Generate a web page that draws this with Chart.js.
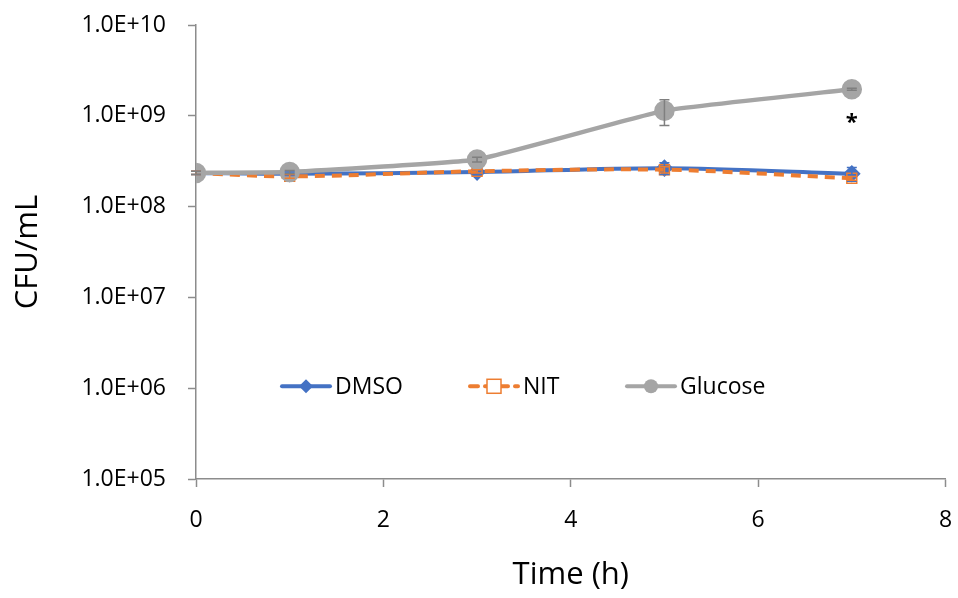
<!DOCTYPE html>
<html>
<head>
    <title>CFU over time</title>
    <script src="https://cdn.jsdelivr.net/npm/chart.js"></script>
    <style>
      body { margin: 0; background: #fff; }
    </style>
</head>
<body>
    <canvas id="cfuChart" width="958" height="598"></canvas>

    <script>
    // values
    const hours = [0, 1, 3, 5, 7];
    const dmso = [2.35e8, 2.3e8, 2.4e8, 2.65e8, 2.3e8];
    const dmsoErr = [0.1e8, 0.1e8, 0.15e8, 0.4e8, 0.4e8];
    const nit = [2.35e8, 2.15e8, 2.45e8, 2.55e8, 2.05e8];
    const nitErr = [0.1e8, 0.1e8, 0.1e8, 0.2e8, 0.1e8];
    const glucose = [2.35e8, 2.4e8, 3.3e8, 1.14e9, 1.96e9];
    const glucoseErr = [0.1e8, 0.1e8, 0.2e8, 0.36e9, 0.05e9];
    const yTicks = [1e5, 1e6, 1e7, 1e8, 1e9, 1e10];
    const xTicks = [0, 2, 4, 6, 8];
    const starAt = { x: 7, y: 9.2e8 };

    const FONT = "'Open Sans', sans-serif";
    const AXIS = '#8c8c8c';

    function pts(ys) { return hours.map((h, i) => ({ x: h, y: ys[i] })); }

    const errorBars = {
      id: 'errorBars',
      afterDatasetsDraw(chart) {
        const ctx = chart.ctx, xs = chart.scales.x, ys = chart.scales.y;
        const sets = [[dmso, dmsoErr, '#4472c4'], [nit, nitErr, '#ed7d31'], [glucose, glucoseErr, '#7f7f7f']];
        ctx.save();
        ctx.lineWidth = 1.5;
        sets.forEach(([v, e, c]) => {
          ctx.strokeStyle = c;
          v.forEach((val, i) => {
            const px = xs.getPixelForValue(hours[i]);
            const top = ys.getPixelForValue(val + e[i]);
            const bot = ys.getPixelForValue(val - e[i]);
            ctx.beginPath();
            ctx.moveTo(px, top); ctx.lineTo(px, bot);
            ctx.moveTo(px - 5, top); ctx.lineTo(px + 5, top);
            ctx.moveTo(px - 5, bot); ctx.lineTo(px + 5, bot);
            ctx.stroke();
          });
        });
        // significance mark
        ctx.fillStyle = '#000';
        ctx.font = "bold 22px " + FONT;
        ctx.textAlign = 'center';
        ctx.textBaseline = 'middle';
        ctx.fillText('*', xs.getPixelForValue(starAt.x), ys.getPixelForValue(starAt.y) + 4);
        ctx.restore();
      }
    };

    const legendItems = [
      { text: 'DMSO', color: '#4472c4', dash: [], marker: 'diamond', x: 282 },
      { text: 'NIT', color: '#ed7d31', dash: [8, 7], marker: 'square', x: 470 },
      { text: 'Glucose', color: '#a5a5a5', dash: [], marker: 'circle', x: 627 }
    ];

    const innerLegend = {
      id: 'innerLegend',
      afterDraw(chart) {
        const ctx = chart.ctx;
        const y = chart.scales.y.getPixelForValue(1.05e6);
        ctx.save();
        legendItems.forEach(it => {
          const x0 = it.x, x1 = it.x + 48, cx = (x0 + x1) / 2;
          ctx.strokeStyle = it.color;
          ctx.lineWidth = 4;
          ctx.lineCap = 'round';
          ctx.setLineDash(it.dash);
          ctx.beginPath(); ctx.moveTo(x0, y); ctx.lineTo(x1, y); ctx.stroke();
          ctx.setLineDash([]);
          if (it.marker === 'diamond') {
            ctx.fillStyle = it.color;
            ctx.beginPath();
            ctx.moveTo(cx, y - 7); ctx.lineTo(cx + 7, y); ctx.lineTo(cx, y + 7); ctx.lineTo(cx - 7, y);
            ctx.closePath(); ctx.fill();
          } else if (it.marker === 'square') {
            ctx.fillStyle = '#fff';
            ctx.fillRect(cx - 7, y - 7, 14, 14);
            ctx.lineWidth = 1.5;
            ctx.strokeRect(cx - 7, y - 7, 14, 14);
          } else {
            ctx.fillStyle = it.color;
            ctx.beginPath(); ctx.arc(cx, y, 7, 0, Math.PI * 2); ctx.fill();
          }
          ctx.fillStyle = '#000';
          ctx.font = '23px ' + FONT;
          ctx.textAlign = 'left';
          ctx.textBaseline = 'middle';
          ctx.fillText(it.text, x1 + 5, y + 1);
        });
        ctx.restore();
      }
    };

    new Chart(document.getElementById('cfuChart'), {
      type: 'line',
      data: {
        datasets: [{
          label: 'DMSO',
          data: pts(dmso),
          borderColor: '#4472c4',
          backgroundColor: '#4472c4',
          borderWidth: 4,
          pointStyle: 'rectRot',
          pointRadius: 6,
          tension: 0.3,
          order: 3
        }, {
          label: 'NIT',
          data: pts(nit),
          borderColor: '#ed7d31',
          backgroundColor: 'rgba(255,255,255,0)',
          borderWidth: 4,
          borderDash: [10, 7],
          pointStyle: 'rect',
          pointRadius: 7,
          pointBorderWidth: 1.5,
          tension: 0.3,
          order: 2
        }, {
          label: 'Glucose',
          data: pts(glucose),
          borderColor: '#a5a5a5',
          backgroundColor: '#a5a5a5',
          borderWidth: 4.5,
          pointStyle: 'circle',
          pointRadius: 8,
          tension: 0.1,
          order: 1
        }]
      },
      options: {
        responsive: false,
        animation: false,
        layout: { padding: { top: 25, right: 11, left: 0, bottom: 0 } },
        plugins: { legend: { display: false }, tooltip: { enabled: false } },
        scales: {
          x: {
            type: 'linear',
            min: 0, max: 8,
            afterBuildTicks: s => { s.ticks = xTicks.map(v => ({ value: v })); },
            afterFit: s => { s.height = 119; s.paddingLeft = 0; s.paddingRight = 0; },
            grid: { display: true, drawOnChartArea: false, drawTicks: true, tickLength: 8, tickColor: AXIS, tickWidth: 1.5 },
            border: { color: AXIS, width: 1.5 },
            ticks: { color: '#000', font: { family: FONT, size: 23 }, padding: 20, maxRotation: 0 },
            title: { display: true, text: 'Time (h)', color: '#000', font: { family: FONT, size: 31 }, padding: { top: 14 } }
          },
          y: {
            type: 'logarithmic',
            min: 1e5, max: 1e10,
            afterBuildTicks: s => { s.ticks = yTicks.map(v => ({ value: v })); },
            afterFit: s => { s.width = 196; s.paddingTop = 0; s.paddingBottom = 0; },
            grid: { display: true, drawOnChartArea: false, drawTicks: true, tickLength: 8, tickColor: AXIS, tickWidth: 1.5 },
            border: { color: AXIS, width: 1.5 },
            ticks: {
              color: '#000',
              font: { family: FONT, size: 23 },
              padding: 22,
              callback: v => '1.0E+' + String(Math.round(Math.log10(v))).padStart(2, '0')
            },
            title: { display: true, text: 'CFU/mL', color: '#000', font: { family: FONT, size: 31 }, padding: { top: 10, bottom: 0 } }
          }
        }
      },
      plugins: [errorBars, innerLegend]
    });
    </script>
</body>
</html>
